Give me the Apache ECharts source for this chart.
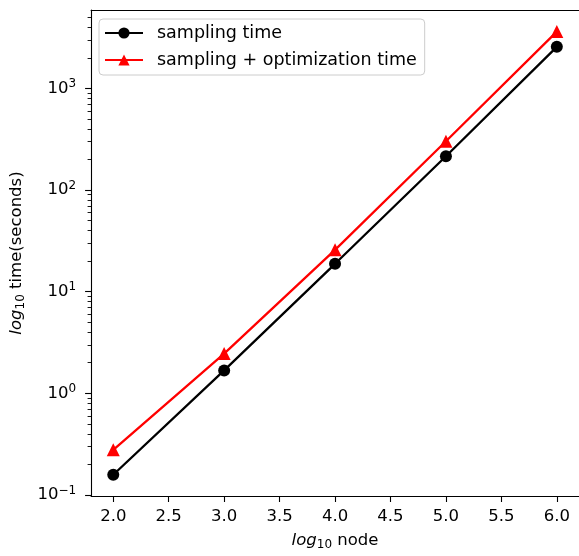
<!DOCTYPE html>
<html>
<head>
<meta charset="utf-8">
<script src="https://cdn.jsdelivr.net/npm/echarts@6/dist/echarts.min.js"></script>
<style>
html,body{margin:0;padding:0;background:#fff;}
#c{width:579px;height:556px;}
</style>
</head>
<body>
<div id="c"></div>
<script>
var nodesLog = [2, 3, 4, 5, 6];
var samplingTime = [0.158, 1.68, 18.8, 215, 2560];
var totalTime = [0.278, 2.46, 25.8, 302, 3620];
var xTicks = [2.0, 2.5, 3.0, 3.5, 4.0, 4.5, 5.0, 5.5, 6.0];
var yMajor = [0.1, 1, 10, 100, 1000];
var yMinor = [];
[0.1, 1, 10, 100, 1000].forEach(function (d) {
  for (var k = 2; k <= 9; k++) { yMinor.push(+(d * k).toPrecision(3)); }
});

var FONT = 'DejaVu Sans';
var TF = 16.5;
var chart = echarts.init(document.getElementById('c'), null, {renderer: 'canvas'});

function pairs(ys) { return nodesLog.map(function (x, i) { return [x, ys[i]]; }); }

var nameRich = {
  i: {fontFamily: FONT, fontStyle: 'italic', fontSize: TF, color: '#000'},
  sub: {fontFamily: FONT, fontSize: 12, color: '#000', padding: [8, 0, 0, 0]},
  n: {fontFamily: FONT, fontSize: TF, color: '#000'}
};

var option = {
  animation: false,
  backgroundColor: '#ffffff',
  textStyle: {fontFamily: FONT},
  grid: {left: 91, top: 10, right: -4, bottom: 59, containLabel: false},
  legend: {
    left: 99, top: 19, orient: 'vertical',
    padding: [5, 8, 6, 5],
    itemGap: 9, itemWidth: 38, itemHeight: 14,
    borderColor: '#cccccc', borderWidth: 1, borderRadius: 4,
    backgroundColor: 'rgba(255,255,255,0.8)',
    textStyle: {fontFamily: FONT, fontSize: 17.5, color: '#000', padding: [0, 0, 0, 9]},
    data: ['sampling time', 'sampling + optimization time']
  },
  xAxis: [{
    type: 'value', min: 1.8, max: 6.2, position: 'bottom',
    axisLine: {show: true, onZero: false, lineStyle: {color: '#000', width: 1.1}},
    axisTick: {show: true, length: 6, customValues: xTicks, lineStyle: {color: '#000', width: 1.1}},
    axisLabel: {show: true, customValues: xTicks, margin: 12, fontFamily: FONT, fontSize: TF, color: '#000',
      formatter: function (v) { return v.toFixed(1); }},
    splitLine: {show: false},
    name: '{i|log}{sub|10}{n| node}', nameLocation: 'middle', nameGap: 35,
    nameTextStyle: {fontFamily: FONT, fontSize: TF, color: '#000', rich: nameRich}
  }, {
    type: 'value', min: 1.8, max: 6.2, position: 'top',
    axisLine: {show: true, onZero: false, lineStyle: {color: '#000', width: 1.1}},
    axisTick: {show: false}, axisLabel: {show: false}, splitLine: {show: false}
  }],
  yAxis: [{
    type: 'log', logBase: 10, min: 0.0977, max: 5900, position: 'left',
    axisLine: {show: true, onZero: false, lineStyle: {color: '#000', width: 1.1}},
    axisTick: {show: true, length: 6, customValues: yMajor, lineStyle: {color: '#000', width: 1.1}},
    axisLabel: {show: true, customValues: yMajor, margin: 15, fontFamily: FONT, fontSize: TF, color: '#000',
      formatter: function (v) {
        var e = Math.round(Math.log(v) / Math.LN10);
        var es = e < 0 ? '\u2212' + (-e) : '' + e;
        return '{b|10}{s|' + es + '}';
      },
      rich: {
        b: {fontFamily: FONT, fontSize: TF, color: '#000'},
        s: {fontFamily: FONT, fontSize: 12, color: '#000', padding: [0, 0, 9, 0]}
      }},
    splitLine: {show: false},
    name: '{i|log}{sub|10}{n| time(seconds)}', nameLocation: 'middle', nameGap: 62,
    nameTextStyle: {fontFamily: FONT, fontSize: TF, color: '#000', rich: nameRich}
  }, {
    type: 'log', logBase: 10, min: 0.0977, max: 5900, position: 'left',
    axisLine: {show: false},
    axisTick: {show: true, length: 3.5, customValues: yMinor, lineStyle: {color: '#000', width: 0.9}},
    axisLabel: {show: false}, splitLine: {show: false}
  }],
  series: [{
    name: 'sampling time', type: 'line', xAxisIndex: 0, yAxisIndex: 0,
    data: pairs(samplingTime),
    symbol: 'circle', symbolSize: 12, showAllSymbol: true,
    lineStyle: {color: '#000', width: 2.3},
    itemStyle: {color: '#000'}
  }, {
    name: 'sampling + optimization time', type: 'line', xAxisIndex: 0, yAxisIndex: 0,
    data: pairs(totalTime),
    symbol: 'triangle', symbolSize: 13, showAllSymbol: true,
    lineStyle: {color: '#ff0000', width: 2.3},
    itemStyle: {color: '#ff0000'}
  }]
};
chart.setOption(option);
</script>
</body>
</html>
